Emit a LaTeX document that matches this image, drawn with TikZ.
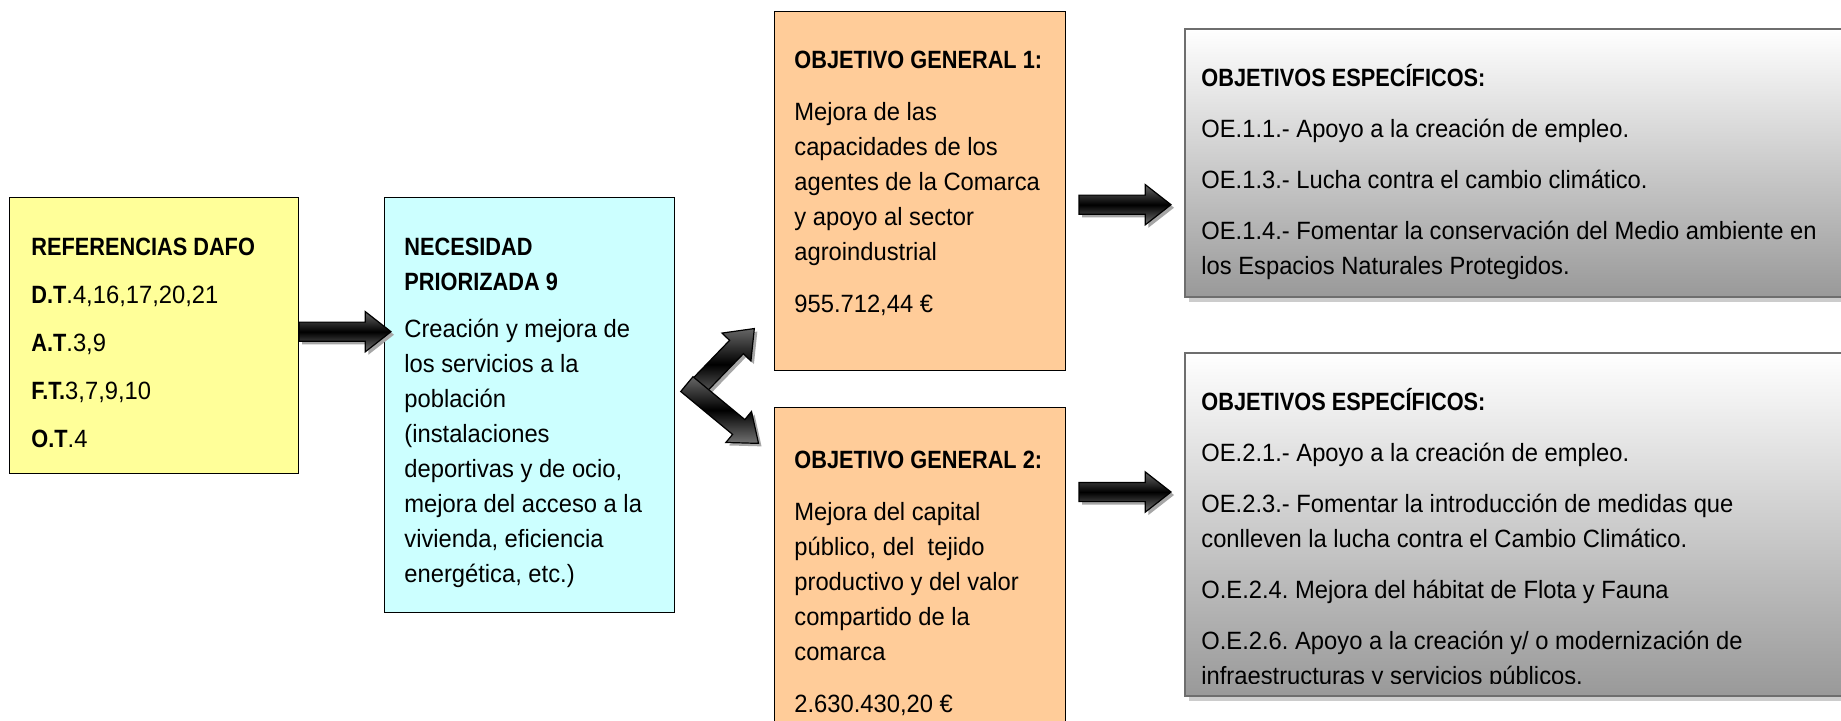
\documentclass[tikz,border=0pt]{standalone}
\usepackage{fontspec}
\usepackage{tikz}
\usetikzlibrary{shapes.arrows,shadows,positioning,calc}
\newfontfamily\boxfont[FakeStretch=0.95]{Liberation Sans}
\newfontfamily\boxhead[FakeStretch=0.87]{Liberation Sans}
\definecolor{dafoyellow}{HTML}{FFFF99}
\definecolor{needcyan}{HTML}{CCFFFF}
\definecolor{ogorange}{HTML}{FFCC99}
\definecolor{oeborder}{HTML}{6E6E6E}
\definecolor{oeshade}{HTML}{999999}
\newcommand{\hd}[1]{{\boxhead\bfseries #1}}
\newcommand{\topstrut}{\rule{0pt}{12pt}}
\frenchspacing

\begin{document}
\begin{tikzpicture}[
  x=0.5pt, y=-0.5pt,
  box/.style={draw=black, line width=0.7pt, anchor=north west, inner sep=0pt},
  dafobox/.style={box, fill=dafoyellow, minimum width=144.5pt, minimum height=138pt},
  needbox/.style={box, fill=needcyan, minimum width=145pt, minimum height=207.5pt},
  ogbox/.style={box, fill=ogorange, minimum width=145.5pt, minimum height=179.5pt},
  oebox/.style={box, draw=oeborder, line width=1pt, top color=white, bottom color=oeshade, minimum width=340pt,
    drop shadow={shadow xshift=2pt, shadow yshift=-2.5pt, fill=black!20, opacity=1}},
  txt/.style={anchor=north west, inner sep=0pt, align=left, font=\boxfont\frenchspacing\fontsize{12.5pt}{17.5pt}\selectfont},
  blockarrow/.style={single arrow, draw=black, line width=0.6pt, inner xsep=0pt, inner ysep=4.5pt,
    single arrow head extend=5.25pt, single arrow tip angle=76, minimum height=46pt, anchor=tail,
    top color=black!60, bottom color=black!55, middle color=black,
    drop shadow={shadow xshift=1.5pt, shadow yshift=-1.5pt, fill=black!35, opacity=1}}
]
\fill[white] (0,0) rectangle (1841,720);
\useasboundingbox (0,0) rectangle (1841,720);
\clip (0,0) rectangle (1841,720);

\node[dafobox] (dafo) at (9,197) {};
\node[needbox] (need) at (384,197) {};
\node[ogbox] (og1) at (774,11) {};
\node[ogbox, minimum height=170pt] (og2) at (774,407) {};
\node[oebox, minimum height=134pt] (oe1) at (1184,28) {};
\node[oebox, minimum height=171.5pt] (oe2) at (1184,352) {};

\node[txt] (dafo-txt) at ([shift={(22,34)}]dafo.north west)
  {\topstrut\hd{REFERENCIAS DAFO}\\[6.5pt]\hd{D.T}.4,16,17,20,21\\[6.5pt]\hd{A.T}.3,9\\[6.5pt]\hd{F.T.}3,7,9,10\\[6.5pt]\hd{O.T}.4};
\node[txt] (need-txt) at ([shift={(20,34)}]need.north west)
  {\topstrut\hd{NECESIDAD}\\\hd{PRIORIZADA 9}\\[6pt]Creación y mejora de\\los servicios a la\\población\\(instalaciones\\deportivas y de ocio,\\mejora del acceso a la\\vivienda, eficiencia\\energética, etc.)};
\node[txt] (og1-txt) at ([shift={(20,33)}]og1.north west)
  {\topstrut\hd{OBJETIVO GENERAL 1:}\\[8.5pt]Mejora de las\\capacidades de los\\agentes de la Comarca\\y apoyo al sector\\agroindustrial\\[8.5pt]955.712,44 €};
\node[txt] (og2-txt) at ([shift={(20,37)}]og2.north west)
  {\topstrut\hd{OBJETIVO GENERAL 2:}\\[8.5pt]Mejora del capital\\público, del\ \ tejido\\productivo y del valor\\compartido de la\\comarca\\[8.5pt]2.630.430,20 €};
\node[txt] (oe1-txt) at ([shift={(17,34)}]oe1.north west)
  {\topstrut\hd{OBJETIVOS ESPECÍFICOS:}\\[8pt]OE.1.1.- Apoyo a la creación de empleo.\\[8pt]OE.1.3.- Lucha contra el cambio climático.\\[8pt]OE.1.4.- Fomentar la conservación del Medio ambiente en\\los Espacios Naturales Protegidos.};
\begin{scope}
\clip (oe2.north west) rectangle ([shift={(0,-14)}]oe2.south east);
\node[txt] (oe2-txt) at ([shift={(17,34)}]oe2.north west)
  {\topstrut\hd{OBJETIVOS ESPECÍFICOS:}\\[8pt]OE.2.1.- Apoyo a la creación de empleo.\\[8pt]OE.2.3.- Fomentar la introducción de medidas que\\conlleven la lucha contra el Cambio Climático.\\[8pt]O.E.2.4. Mejora del hábitat de Flota y Fauna\\[8pt]O.E.2.6. Apoyo a la creación y/ o modernización de\\infraestructuras y servicios públicos.};
\end{scope}

\node[blockarrow] (dafo-need) at ([shift={(-1,-4)}]dafo.east) {};
\node[blockarrow, minimum height=45pt, rotate=46] (need-og1) at ([shift={(16,-11.5)}]need.east) {};
\node[blockarrow, minimum height=46.5pt, rotate=-39.6] (need-og2) at ([shift={(11,-21.5)}]need.east) {};
\node[blockarrow] (og1-oe1) at ([shift={(12,13.5)}]og1.east) {};
\node[blockarrow] (og2-oe2) at ([shift={(12,85)}]og2.north east) {};
\end{tikzpicture}
\end{document}
